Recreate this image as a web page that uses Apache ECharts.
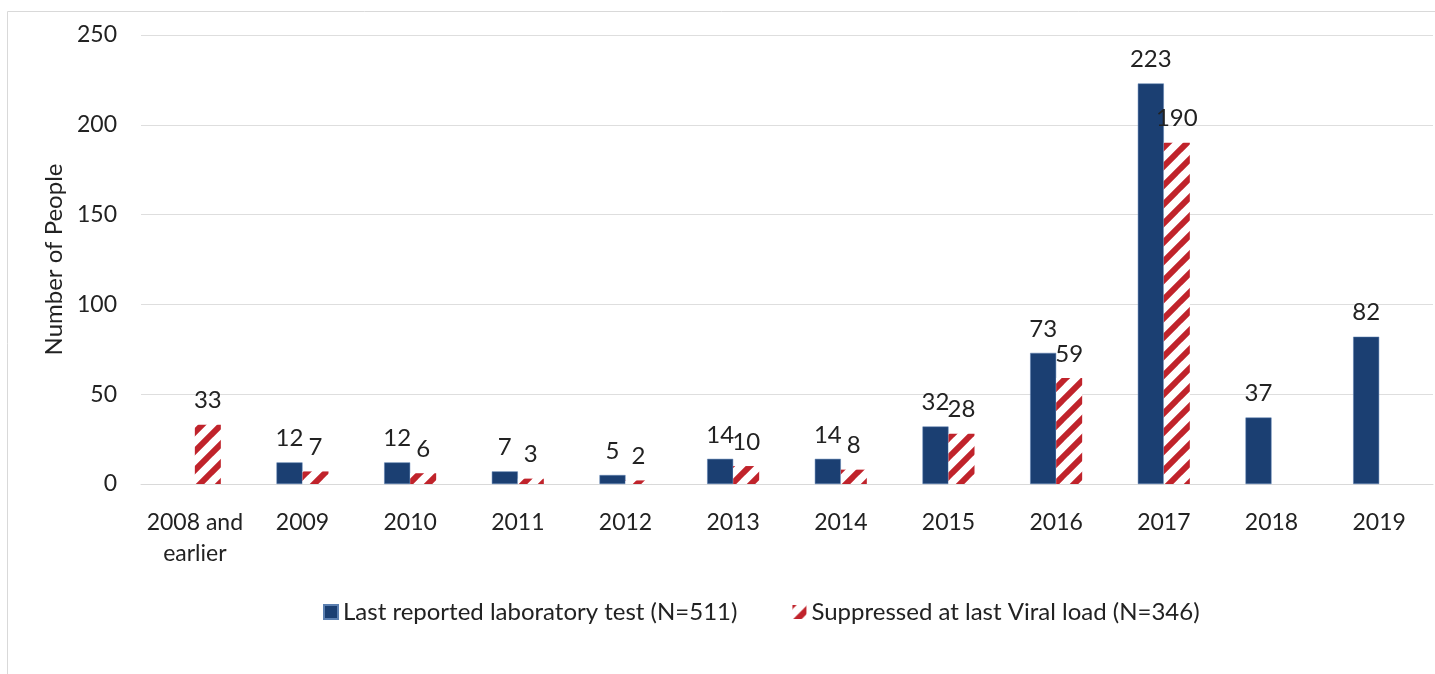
<!DOCTYPE html>
<html>
<head>
<meta charset="utf-8">
<script src="https://cdn.jsdelivr.net/npm/echarts@6/dist/echarts.min.js"></script>
<style>
  html, body { margin: 0; padding: 0; background: #fff; }
  #main { width: 1435px; height: 674px; }
</style>
</head>
<body>
<div id="main"></div>
<script>
// data
var years = ['2008 and\nearlier', '2009', '2010', '2011', '2012', '2013', '2014', '2015', '2016', '2017', '2018', '2019'];
var lastTest = [null, 12, 12, 7, 5, 14, 14, 32, 73, 223, 37, 82];
var suppressed = [33, 7, 6, 3, 2, 10, 8, 28, 59, 190, null, null];
var seriesNames = ['Last reported laboratory test (N=511)', 'Suppressed at last Viral load (N=346)'];

// red diagonal hatch
function hatch() {
    var s = 19;
    var c = document.createElement('canvas');
    c.width = s; c.height = s;
    var ctx = c.getContext('2d');
    ctx.fillStyle = '#fff';
    ctx.fillRect(0, 0, s, s);
    ctx.strokeStyle = '#c0232b';
    ctx.lineWidth = 6;
    [0, s, 2 * s].forEach(function (k) {
        ctx.beginPath();
        ctx.moveTo(-2, k + 2);
        ctx.lineTo(k + 2, -2);
        ctx.stroke();
    });
    return c;
}

var font = 'Lato';
var myChart = echarts.init(document.getElementById('main'));
myChart.setOption({
    animation: false,
    textStyle: { fontFamily: font },
    graphic: [{
        type: 'rect',
        shape: { x: 7.5, y: 11.5, width: 1460, height: 700 },
        style: { fill: 'none', stroke: '#d9d9d9', lineWidth: 1 }
    }],
    grid: { left: 141, right: 2, top: 35, bottom: 190 },
    legend: {
        left: 318,
        top: 595,
        icon: 'rect',
        itemWidth: 14,
        itemHeight: 14,
        itemGap: 55,
        textStyle: { fontSize: 24, color: '#222', fontFamily: font },
        data: seriesNames
    },
    xAxis: {
        type: 'category',
        data: years,
        axisLine: { lineStyle: { color: '#d9d9d9' } },
        axisTick: { show: false },
        axisLabel: { fontSize: 23, color: '#222', margin: 23, lineHeight: 31, interval: 0 }
    },
    yAxis: {
        type: 'value',
        min: 0,
        max: 250,
        interval: 50,
        name: 'Number of People',
        nameLocation: 'middle',
        nameGap: 74,
        nameTextStyle: { fontSize: 24, color: '#222' },
        axisLabel: { fontSize: 23, color: '#222', margin: 24 },
        splitLine: { lineStyle: { color: '#dedede' } }
    },
    series: [{
        name: seriesNames[0],
        type: 'bar',
        data: lastTest,
        barWidth: 26,
        barGap: '0%',
        itemStyle: { color: '#1b3f72', borderColor: '#5b7fb0', borderWidth: 0.5 },
        label: { show: true, position: 'top', fontSize: 24, color: '#222', distance: 12 }
    }, {
        name: seriesNames[1],
        type: 'bar',
        data: suppressed,
        barWidth: 26,
        barGap: '0%',
        itemStyle: { color: { image: hatch(), repeat: 'repeat' } },
        label: { show: true, position: 'top', fontSize: 24, color: '#222', distance: 12 }
    }]
});
</script>
</body>
</html>
